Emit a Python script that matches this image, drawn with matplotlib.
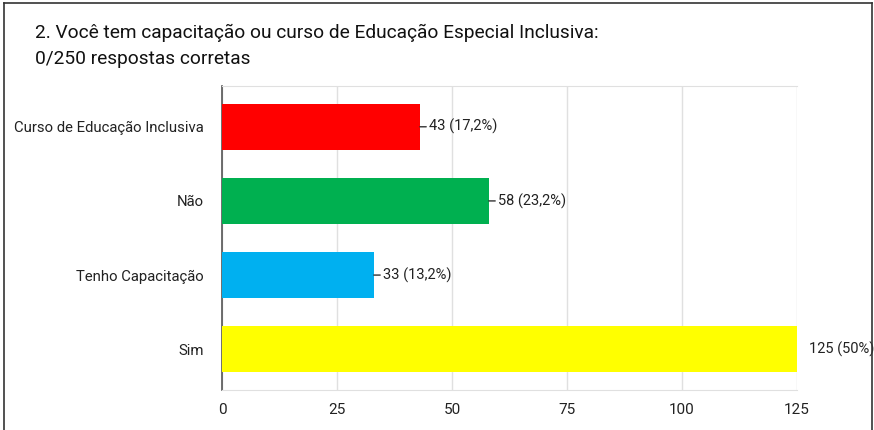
import matplotlib
matplotlib.use("Agg")
import matplotlib.pyplot as plt
from matplotlib.lines import Line2D

categories = ["Curso de Educação Inclusiva", "Não", "Tenho Capacitação", "Sim"]
values = [43, 58, 33, 125]
labels = ["43 (17,2%)", "58 (23,2%)", "33 (13,2%)", "125 (50%)"]
colors = ["#ff0000", "#00b050", "#00b0f0", "#ffff00"]
xticks = [0, 25, 50, 75, 100, 125]

fam = ["Roboto", "DejaVu Sans"]

W, H = 874, 430
fig = plt.figure(figsize=(W / 100, H / 100), dpi=100)
fig.patch.set_facecolor("white")

# border
for (x0, y0, x1, y1) in [(4, 3, 4, 430), (4, 3, 872, 3), (872, 3, 872, 430)]:
    fig.add_artist(Line2D([x0 / W, x1 / W], [1 - y0 / H, 1 - y1 / H], color="#333333", lw=1.2))

fig.text(35 / W, 1 - 33 / H, "2. Você tem capacitação ou curso de Educação Especial Inclusiva:",
         fontsize=13.8, family=fam, va="center", ha="left", color="#111111")
fig.text(35 / W, 1 - 59 / H, "0/250 respostas corretas",
         fontsize=13.8, family=fam, va="center", ha="left", color="#111111")

ax_l, ax_r, ax_t, ax_b = 222, 797, 86, 390
ax = fig.add_axes([ax_l / W, 1 - ax_b / H, (ax_r - ax_l) / W, (ax_b - ax_t) / H])
ypos = list(range(len(categories)))[::-1]
ax.barh(ypos, values, height=0.62, color=colors, zorder=3)
ax.set_xlim(0, 125)
ax.set_ylim(-0.55, 3.55)
ax.set_xticks(xticks)
ax.set_xticklabels([str(t) for t in xticks], family=fam, fontsize=11, color="#222222")
ax.set_yticks(ypos)
ax.set_yticklabels(categories, family=fam, fontsize=10.7, color="#222222")
ax.tick_params(axis="both", length=0)
ax.tick_params(axis="x", pad=9)
ax.tick_params(axis="y", pad=13)
ax.grid(axis="x", color="#e0e0e0", lw=1, zorder=0)
for s in ["top", "bottom"]:
    ax.spines[s].set_color("#e0e0e0")
ax.spines["right"].set_visible(False)
ax.spines["left"].set_color("#555555")
ax.spines["left"].set_linewidth(1.2)

for y, v, lab in zip(ypos, values, labels):
    if v < 100:
        ax.annotate(lab, xy=(v, y), xytext=(v + 2.0, y), va="center", ha="left",
                    family=fam, fontsize=10.5, color="#222222",
                    arrowprops=dict(arrowstyle="-", color="#333333", lw=1, shrinkA=0, shrinkB=0))
    else:
        ax.text(v + 2.5, y, lab, va="center", ha="left", family=fam, fontsize=10.5,
                color="#222222", clip_on=False)

fig.savefig("out.png", dpi=100)
